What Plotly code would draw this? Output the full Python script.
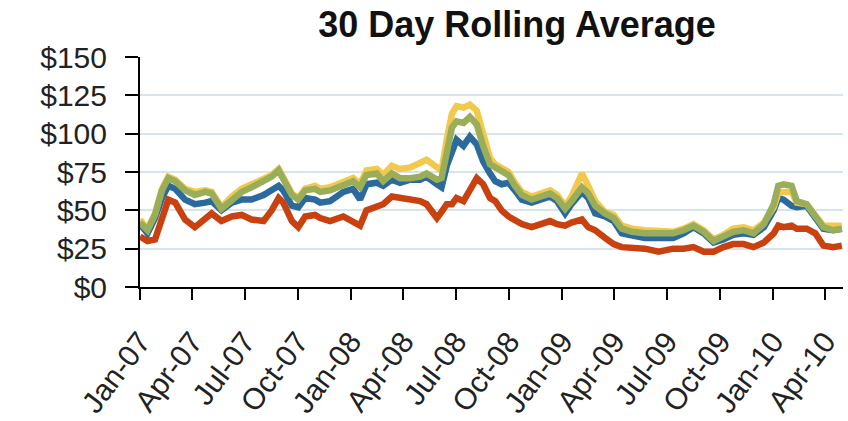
import plotly.graph_objects as go

# Sample dates for the 30-day rolling averages
dates = [
    "2007-01-01", "2007-01-14", "2007-01-27", "2007-02-08", "2007-02-19", "2007-03-03",
    "2007-03-20", "2007-04-06", "2007-04-24", "2007-05-05", "2007-05-22", "2007-06-09",
    "2007-06-26", "2007-07-13", "2007-08-03", "2007-08-17", "2007-08-29", "2007-09-06",
    "2007-09-21", "2007-10-02", "2007-10-14", "2007-10-31", "2007-11-09", "2007-11-26",
    "2007-12-19", "2008-01-05", "2008-01-17", "2008-01-28", "2008-02-15", "2008-02-26",
    "2008-03-12", "2008-03-26", "2008-04-13", "2008-04-30", "2008-05-11", "2008-05-29",
    "2008-06-06", "2008-06-15", "2008-06-24", "2008-07-02", "2008-07-14", "2008-07-25",
    "2008-08-06", "2008-08-17", "2008-08-29", "2008-09-07", "2008-09-18", "2008-09-30",
    "2008-10-11", "2008-10-23", "2008-11-09", "2008-11-27", "2008-12-11", "2008-12-23",
    "2009-01-06", "2009-01-17", "2009-02-04", "2009-02-15", "2009-02-27", "2009-03-16",
    "2009-03-31", "2009-04-14", "2009-05-02", "2009-05-24", "2009-06-17", "2009-07-12",
    "2009-07-30", "2009-08-16", "2009-09-03", "2009-09-20", "2009-10-07", "2009-10-24",
    "2009-11-11", "2009-11-28", "2009-12-16", "2010-01-02", "2010-01-10", "2010-01-19",
    "2010-02-02", "2010-02-11", "2010-02-28", "2010-03-15", "2010-03-29", "2010-04-15",
    "2010-04-30",
]

blue_vals = [
    41, 35, 45, 58, 66, 64, 57, 54, 55, 56, 50, 55,
    57, 57, 60, 63, 66, 63, 53, 52, 58, 57, 55, 56,
    62, 64, 57, 67, 68, 66, 70, 68, 70, 70, 72, 67,
    65, 79, 88, 96, 92, 98, 93, 82, 74, 69, 67, 68,
    63, 57, 55, 57, 59, 56, 48, 54, 62, 58, 48, 46,
    43, 35, 34, 32, 32, 32, 35, 39, 35, 29, 31, 34,
    35, 34, 39, 50, 58, 57, 53, 52, 53, 45, 38, 37,
    38,
]

red_vals = [
    33, 30, 31, 44, 57, 55, 44, 39, 45, 48, 43, 46,
    47, 44, 43, 50, 58, 55, 43, 39, 46, 47, 45, 43,
    46, 43, 40, 50, 53, 54, 59, 58, 57, 56, 54, 45,
    49, 54, 54, 58, 56, 64, 71, 67, 58, 56, 50, 46,
    43, 41, 39, 41, 43, 41, 40, 42, 44, 39, 37, 32,
    28, 26, 26, 25, 23, 25, 25, 26, 23, 23, 26, 28,
    28, 26, 29, 35, 40, 39, 40, 38, 38, 35, 27, 26,
    27,
]

yellow_vals = [
    44, 38, 48, 64, 72, 70, 64, 62, 63, 62, 52, 59,
    64, 67, 71, 73, 77, 71, 61, 58, 64, 66, 64, 65,
    69, 71, 67, 76, 77, 73, 79, 77, 78, 81, 83, 78,
    76, 96, 113, 118, 117, 119, 115, 100, 84, 80, 78, 75,
    68, 62, 59, 61, 63, 60, 53, 59, 74, 66, 56, 49,
    47, 40, 38, 37, 36, 36, 38, 41, 37, 31, 34, 38,
    39, 37, 42, 52, 61, 62, 62, 55, 54, 46, 40, 40,
    40,
]

green_vals = [
    42, 37, 47, 63, 71, 69, 63, 60, 62, 61, 51, 57,
    62, 65, 69, 72, 76, 70, 60, 57, 63, 64, 62, 63,
    67, 69, 65, 73, 74, 69, 74, 71, 71, 72, 74, 70,
    71, 89, 104, 108, 107, 111, 106, 92, 80, 78, 76, 73,
    66, 60, 57, 59, 61, 58, 51, 56, 65, 61, 53, 48,
    45, 38, 36, 35, 35, 35, 37, 40, 36, 30, 33, 36,
    37, 35, 41, 54, 66, 67, 66, 56, 54, 46, 39, 37,
    38,
]

y_tick_vals = [0, 25, 50, 75, 100, 125, 150]
y_tick_text = ["$0", "$25", "$50", "$75", "$100", "$125", "$150"]

x_tick_vals = [
    "2007-01-01", "2007-04-01", "2007-07-01", "2007-10-01",
    "2008-01-01", "2008-04-01", "2008-07-01", "2008-10-01",
    "2009-01-01", "2009-04-01", "2009-07-01", "2009-10-01",
    "2010-01-01", "2010-04-01",
]
x_tick_text = [
    "Jan-07", "Apr-07", "Jul-07", "Oct-07",
    "Jan-08", "Apr-08", "Jul-08", "Oct-08",
    "Jan-09", "Apr-09", "Jul-09", "Oct-09",
    "Jan-10", "Apr-10",
]

series = [
    ("Blue", blue_vals, "#2c6a9e"),
    ("Red", red_vals, "#c8410f"),
    ("Yellow", yellow_vals, "#f2c94c"),
    ("Green", green_vals, "#9aad58"),
]

fig = go.Figure()
for name, vals, color in series:
    fig.add_trace(go.Scatter(
        x=dates, y=vals, name=name, mode="lines",
        line=dict(color=color, width=6.5),
    ))

font_family = "Liberation Sans, Arial, sans-serif"

fig.update_layout(
    width=848, height=421,
    margin=dict(l=140, r=5, t=57, b=134),
    paper_bgcolor="white",
    plot_bgcolor="white",
    showlegend=False,
    title=dict(
        text="<b>30 Day Rolling Average</b>",
        font=dict(family=font_family, size=36, color="#111111"),
        x=517 / 848, xanchor="center",
        y=1 - 24 / 421, yanchor="middle",
    ),
    xaxis=dict(
        type="date",
        range=["2007-01-01", "2010-05-02"],
        tickvals=x_tick_vals,
        ticktext=x_tick_text,
        tickangle=-53,
        tickfont=dict(family=font_family, size=30, color="#222222"),
        ticks="outside", ticklen=11, tickwidth=2, tickcolor="black",
        showline=True, linecolor="black", linewidth=2,
        showgrid=False, zeroline=False,
        ticklabelstandoff=12,
        automargin=False,
    ),
    yaxis=dict(
        range=[0, 150],
        tickvals=y_tick_vals,
        ticktext=y_tick_text,
        tickfont=dict(family=font_family, size=30, color="#222222"),
        ticks="outside", ticklen=13, tickwidth=2, tickcolor="black",
        showline=True, linecolor="black", linewidth=2,
        showgrid=True, gridcolor="#d5e5e9", gridwidth=2,
        zeroline=False,
        ticklabelstandoff=12,
        automargin=False,
    ),
)

fig.write_html("out.html")
